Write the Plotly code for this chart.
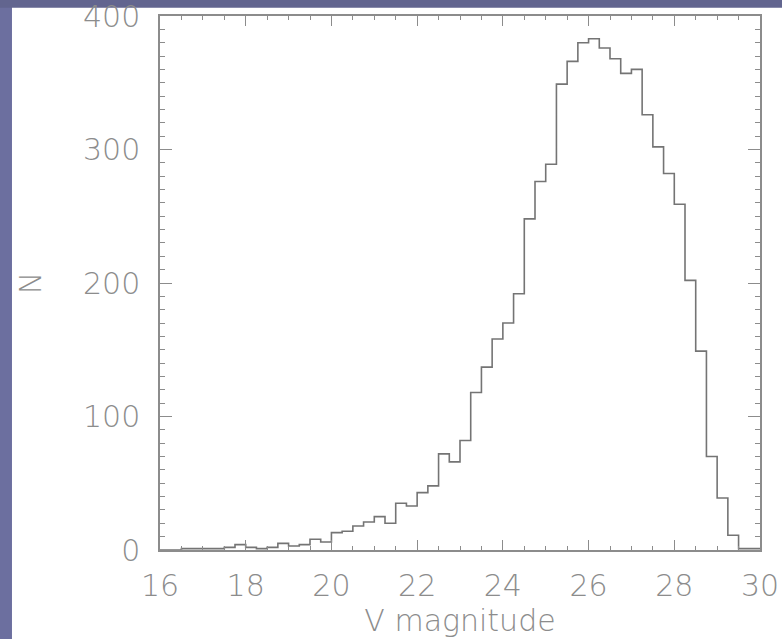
import numpy as np
import plotly.graph_objects as go

# V-magnitude histogram: bin starts (0.25 mag bins, 16 -> 30) and counts
bin_width = 0.25
bin_starts = list(np.arange(16.0, 30.0, bin_width))
counts = [0, 0, 1, 1, 1, 1, 2, 4, 2, 1,
          2, 5, 3, 4, 8, 6, 13, 14, 18, 21,
          25, 20, 35, 33, 43, 48, 72, 66, 82, 118,
          137, 158, 170, 192, 248, 276, 289, 349, 366, 380,
          383, 376, 368, 357, 360, 326, 302, 282, 259, 202,
          149, 70, 39, 11, 1, 1]

x_ticks = [16, 18, 20, 22, 24, 26, 28, 30]
y_ticks = [0, 100, 200, 300, 400]

# step outline: repeat the last count at the final edge
step_x = bin_starts + [bin_starts[-1] + bin_width]
step_y = counts + [counts[-1]]

axis_grey = "#8c8c8c"
text_grey = "#8c8c8c"
font = dict(family="DejaVu Sans", size=30, color=text_grey, weight=200)

fig = go.Figure()
fig.add_trace(go.Scatter(x=step_x, y=step_y, mode="lines",
                         line=dict(shape="hv", color="#747474", width=1.6),
                         hoverinfo="skip", showlegend=False))

axis_common = dict(showline=True, linecolor=axis_grey, linewidth=1.5,
                   mirror="allticks", ticks="inside", tickcolor=axis_grey,
                   tickwidth=1.3, showgrid=False, zeroline=False,
                   tickfont=font, ticklabeloverflow="allow")

fig.update_xaxes(range=[16, 30], tickvals=x_ticks, ticklen=10,
                 minor=dict(dtick=0.5, tick0=16, ticks="inside", ticklen=4,
                            tickcolor=axis_grey, tickwidth=1.2, showgrid=False),
                 ticklabelstandoff=8,
                 title=dict(text="V magnitude", font=font, standoff=6),
                 **axis_common)
fig.update_yaxes(range=[0, 400], tickvals=y_ticks, ticklen=12,
                 minor=dict(dtick=10, tick0=0, ticks="inside", ticklen=5,
                            tickcolor=axis_grey, tickwidth=1.2, showgrid=False),
                 ticklabelstandoff=12,
                 title=dict(text="N", font=font, standoff=32),
                 **axis_common)

fig.update_layout(
    width=782, height=639,
    margin=dict(l=160, r=22, t=16, b=89, autoexpand=False),
    paper_bgcolor="white", plot_bgcolor="white",
    shapes=[
        dict(type="rect", xref="paper", yref="paper", layer="below",
             x0=-0.27, x1=-0.2467, y0=-0.2, y1=1.05,
             fillcolor="#6c6f9f", line=dict(width=0)),
        dict(type="rect", xref="paper", yref="paper", layer="below",
             x0=-0.27, x1=1.05, y0=1.0155, y1=1.05,
             fillcolor="#62658f", line=dict(width=0)),
    ],
)

fig.write_html("out.html", config={"displayModeBar": False},
               post_script="document.body.style.margin='0';")
